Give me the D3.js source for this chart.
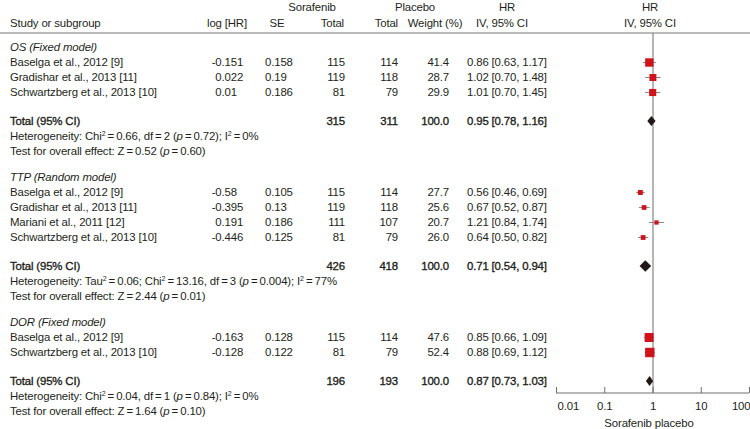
<!DOCTYPE html>
<html>
<head>
<meta charset="utf-8">
<script src="https://cdn.jsdelivr.net/npm/d3@7"></script>
<style>
  body { margin: 0; background: #fff; }
  svg text { font-family: "Liberation Sans", Arial, sans-serif; font-size: 11.4px; fill: #231f20; letter-spacing: -0.15px; }
  svg text.heavy { stroke: #231f20; stroke-width: 0.35px; }
</style>
</head>
<body>
<div id="chart"></div>
<script>
// subgroups
const groupNames = ["OS (Fixed model)", "TTP (Random model)", "DOR (Fixed model)"];
const groupRandom = [false, true, false];

// studies
const studyGroup = [0, 0, 0, 1, 1, 1, 1, 2, 2];
const studyNames = [
  "Baselga et al., 2012 [9]", "Gradishar et al., 2013 [11]", "Schwartzberg et al., 2013 [10]",
  "Baselga et al., 2012 [9]", "Gradishar et al., 2013 [11]", "Mariani et al., 2011 [12]", "Schwartzberg et al., 2013 [10]",
  "Baselga et al., 2012 [9]", "Schwartzberg et al., 2013 [10]"
];
const logHR = ["-0.151", "0.022", "0.01", "-0.58", "-0.395", "0.191", "-0.446", "-0.163", "-0.128"];
const seValues = ["0.158", "0.19", "0.186", "0.105", "0.13", "0.186", "0.125", "0.128", "0.122"];
const sorafenibN = [115, 119, 81, 115, 119, 111, 81, 115, 81];
const placeboN = [114, 118, 79, 114, 118, 107, 79, 114, 79];
const weights = [41.4, 28.7, 29.9, 27.7, 25.6, 20.7, 26.0, 47.6, 52.4];
const hr = [0.86, 1.02, 1.01, 0.56, 0.67, 1.21, 0.64, 0.85, 0.88];
const hrLow = [0.63, 0.70, 0.70, 0.46, 0.52, 0.84, 0.50, 0.66, 0.69];
const hrHigh = [1.17, 1.48, 1.45, 0.69, 0.87, 1.74, 0.82, 1.09, 1.12];

// subgroup totals
const totalSorafenib = [315, 426, 196];
const totalPlacebo = [311, 418, 193];
const totalHR = [0.95, 0.71, 0.87];
const totalLow = [0.78, 0.54, 0.73];
const totalHigh = [1.16, 0.94, 1.03];
const hetTau2 = [null, "0.06", null];
const hetChi2 = ["0.66", "13.16", "0.04"];
const hetDf = [2, 3, 1];
const hetP = ["0.72", "0.004", "0.84"];
const hetI2 = [0, 77, 0];
const testZ = ["0.52", "2.44", "1.64"];
const testP = ["0.60", "0.01", "0.10"];

const axisTicks = [0.01, 0.1, 1, 10, 100];

const width = 750, height = 429;
const f2 = d3.format(".2f");
const eq = "\u2009=\u2009";

const svg = d3.select("#chart").append("svg")
  .attr("width", width)
  .attr("height", height);

const x = d3.scaleLog().domain([0.01, 100]).range([556, 749]);

// row layout
const rows = [];
let y = 47;
groupNames.forEach((g, gi) => {
  rows.push({type: "group", g: gi, y: y});
  studyNames.forEach((s, i) => {
    if (studyGroup[i] !== gi) return;
    y += 15;
    rows.push({type: "study", i: i, y: y});
  });
  y += 29;
  rows.push({type: "total", g: gi, y: y});
  y += 15;
  rows.push({type: "het", g: gi, y: y});
  y += 15;
  rows.push({type: "test", g: gi, y: y});
  y += 26;
});

function txt(xp, yp, s, anchor) {
  return svg.append("text")
    .attr("x", xp).attr("y", yp).attr("dy", "0.35em")
    .attr("text-anchor", anchor || "start")
    .text(s);
}

function rich(xp, yp, parts) {
  const t = svg.append("text").attr("x", xp).attr("y", yp).attr("dy", "0.35em");
  parts.forEach(p => {
    const ts = t.append("tspan").text(p[0]);
    if (p[1] === "it") ts.attr("font-style", "italic");
    if (p[1] === "sup") {
      ts.attr("font-size", "7px").attr("dy", "-4");
    }
    if (p[2]) ts.attr("dy", p[2]);
  });
  return t;
}

// header
txt(312, 7, "Sorafenib", "middle");
txt(415, 7, "Placebo", "middle");
txt(507, 7, "HR", "middle");
txt(650, 7, "HR", "middle");
txt(10, 23, "Study or subgroup");
txt(227, 23, "log [HR]", "middle");
txt(277, 23, "SE", "middle");
txt(344, 23, "Total", "end");
txt(398, 23, "Total", "end");
txt(435, 23, "Weight (%)", "middle");
txt(502, 23, "IV, 95% CI", "middle");
txt(650, 23, "IV, 95% CI", "middle");

svg.append("line")
  .attr("x1", 0).attr("x2", width)
  .attr("y1", 33).attr("y2", 33)
  .attr("stroke", "#777").attr("stroke-width", 1);

const axisY = 393;

// reference line at HR = 1
svg.append("line")
  .attr("x1", x(1) + 0.5).attr("x2", x(1) + 0.5)
  .attr("y1", 33).attr("y2", axisY)
  .attr("stroke", "#6e6e6e").attr("stroke-width", 1);

const boxScale = d3.scaleSqrt().domain([0, 100]).range([0, 13]);

rows.forEach(r => {
  if (r.type === "group") {
    txt(10, r.y, groupNames[r.g]).attr("font-style", "italic");
  } else if (r.type === "study") {
    const i = r.i;
    txt(10, r.y, studyNames[i]);
    const parts = logHR[i].split(".");
    txt(221.5, r.y, parts[0], "end");
    txt(221.5, r.y, "." + parts[1]);
    txt(265, r.y, seValues[i]);
    txt(345, r.y, sorafenibN[i], "end");
    txt(398, r.y, placeboN[i], "end");
    txt(449, r.y, weights[i].toFixed(1), "end");
    txt(467, r.y, `${f2(hr[i])} [${f2(hrLow[i])}, ${f2(hrHigh[i])}]`);
    svg.append("line")
      .attr("x1", x(hrLow[i])).attr("x2", x(hrHigh[i]))
      .attr("y1", r.y + 0.5).attr("y2", r.y + 0.5)
      .attr("stroke", "#8a8a8a").attr("stroke-width", 1);
    const side = boxScale(weights[i]) * (groupRandom[studyGroup[i]] ? 0.72 : 1);
    svg.append("rect")
      .attr("x", x(hr[i]) - side / 2).attr("y", r.y + 0.5 - side / 2)
      .attr("width", side).attr("height", side)
      .attr("fill", "#d0121b");
  } else if (r.type === "total") {
    const g = r.g;
    txt(10, r.y, "Total (95% CI)").attr("class", "heavy");
    txt(345, r.y, totalSorafenib[g], "end").attr("class", "heavy");
    txt(398, r.y, totalPlacebo[g], "end").attr("class", "heavy");
    txt(449, r.y, "100.0", "end").attr("class", "heavy");
    txt(467, r.y, `${f2(totalHR[g])} [${f2(totalLow[g])}, ${f2(totalHigh[g])}]`).attr("class", "heavy");
    const xl = x(totalLow[g]), xh = x(totalHigh[g]), xc = x(totalHR[g]);
    const hh = Math.max(5, (xh - xl) / 2);
    svg.append("path")
      .attr("d", `M${xl},${r.y} L${xc},${r.y - hh} L${xh},${r.y} L${xc},${r.y + hh} Z`)
      .attr("fill", "#231815");
  } else if (r.type === "het") {
    const g = r.g;
    const parts = [["Heterogeneity: "]];
    if (hetTau2[g] !== null) {
      parts.push(["Tau"], ["2", "sup"], [eq + hetTau2[g] + "; ", null, "4"]);
    }
    parts.push(["Chi"], ["2", "sup"], [eq + hetChi2[g] + ", df" + eq + hetDf[g] + " (", null, "4"],
      ["p", "it"], [eq + hetP[g] + "); I"], ["2", "sup"], [eq + hetI2[g] + "%", null, "4"]);
    rich(10, r.y, parts);
  } else if (r.type === "test") {
    const g = r.g;
    rich(10, r.y, [["Test for overall effect: Z" + eq + testZ[g] + " ("], ["p", "it"], [eq + testP[g] + ")"]]);
  }
});

// log axis
const axis = svg.append("g")
  .attr("transform", `translate(0,${axisY})`)
  .call(d3.axisBottom(x).tickValues(axisTicks).tickFormat(d => String(d)).tickSize(-6).tickPadding(9));
axis.attr("font-family", null).attr("font-size", null);
axis.select(".domain").attr("stroke", "#6e6e6e").attr("d", `M${x(0.01)},0H${x(100)}`);
axis.selectAll(".tick line").attr("stroke", "#6e6e6e");
axis.selectAll(".tick text")
  .style("fill", "#231f20")
  .attr("text-anchor", (d, i) => i === 0 ? "start" : (i === axisTicks.length - 1 ? "end" : "middle"))
  .attr("dx", (d, i) => i === 0 ? 1 : (i === axisTicks.length - 1 ? 1 : 0));

txt(649, 423, "Sorafenib placebo", "middle");
</script>
</body>
</html>
